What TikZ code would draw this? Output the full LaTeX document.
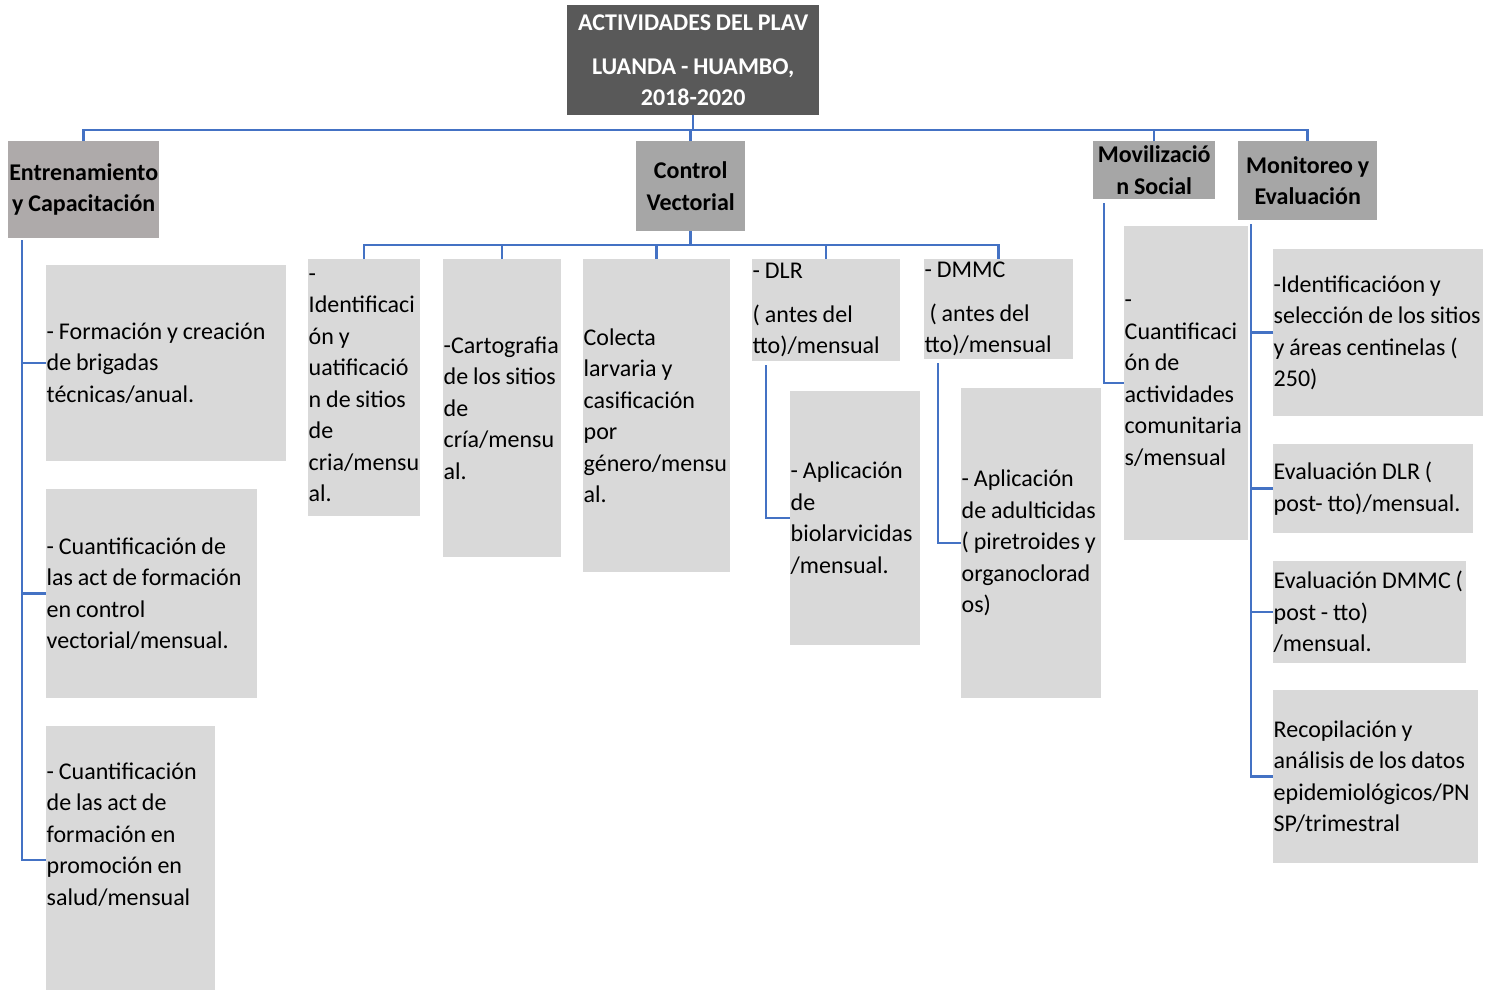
\documentclass[tikz,border=0pt]{standalone}
\usepackage{fontspec}
\setmainfont{Carlito}[WordSpace={0.9,0.3,0.3}]
\usetikzlibrary{positioning,calc}
\definecolor{titlegray}{HTML}{595959}
\definecolor{catgray}{HTML}{A6A6A6}
\definecolor{entgray}{HTML}{AEAAAA}
\definecolor{leafgray}{HTML}{D9D9D9}
\definecolor{linkblue}{HTML}{4472C4}
\newcommand{\boxfont}{\fontsize{24}{31.5}\selectfont\hyphenpenalty=10000\exhyphenpenalty=10000}
\tikzset{
  titlebox/.style={fill=titlegray,text=white,font=\boxfont\bfseries,align=center,anchor=north west,inner sep=0pt},
  catbox/.style={fill=catgray,font=\boxfont\bfseries,align=center,anchor=north west,inner sep=0pt},
  leafbox/.style={fill=leafgray,font=\boxfont,align=flush left,anchor=north west,inner xsep=0.5pt,inner ysep=0pt},
  conn/.style={draw=linkblue,line width=2.5pt}
}

\begin{document}
\begin{tikzpicture}[x=1pt,y=-1pt]
\useasboundingbox (0,0) rectangle (1502,989);
\node[titlebox,minimum width=252pt,minimum height=110pt] (plav) at (567,5) {ACTIVIDADES DEL PLAV\\[12.5pt]LUANDA - HUAMBO,\\2018-2020};
\node[catbox,fill=entgray,minimum width=151pt,minimum height=97pt] (ent) at (8,141) {Entrenamiento\\y Capacitación};
\node[catbox,minimum width=109pt,minimum height=90pt] (cv) at (636,141) {Control\\Vectorial};
\node[catbox,minimum width=122pt,minimum height=58pt] (mov) at (1093,141) {Movilizació\\n Social};
\node[catbox,minimum width=139pt,minimum height=79pt] (mon) at (1238,141) {Monitoreo y\\Evaluación};
\node[leafbox,text width=239pt,minimum height=196pt] (e1) at (46,265) {- Formación y creación\\de brigadas\\técnicas/anual.};
\node[leafbox,text width=210pt,minimum height=209pt] (e2) at (46,489) {- Cuantificación de\\las act de formación\\en control\\vectorial/mensual.};
\node[leafbox,text width=168pt,minimum height=268pt] (e3) at (46,726) {- Cuantificación\\de las act de\\formación en\\promoción en\\salud/mensual\\[21pt]\mbox{}};
\node[leafbox,text width=111pt,minimum height=257pt] (c1) at (308,259) {-\\Identificaci\\ón y\\uatificació\\n de sitios\\de\\cria/mensu\\al.};
\node[leafbox,text width=117pt,minimum height=298pt] (c2) at (443,259) {-Cartografia\\de los sitios\\de\\cría/mensu\\al.};
\node[leafbox,text width=146pt,minimum height=313pt] (c3) at (583,259) {Colecta\\larvaria y\\casificación\\por\\género/mensu\\al.};
\node[leafbox,text width=147pt,minimum height=102pt] (c4) at (752,259) {- DLR\\[12pt]( antes del\\tto)/mensual};
\node[leafbox,text width=148pt,minimum height=100pt] (c5) at (924,259) {- DMMC\\[12pt]\ ( antes del\\tto)/mensual};
\node[leafbox,text width=129pt,minimum height=254pt] (b1) at (790,391) {- Aplicación\\de\\biolarvicidas\\/mensual.};
\node[leafbox,text width=139pt,minimum height=310pt] (b2) at (961,388) {- Aplicación\\de adulticidas\\( piretroides y\\organoclorad\\os)};
\node[leafbox,text width=123pt,minimum height=314pt] (mv1) at (1124,226) {-\\Cuantificaci\\ón de\\actividades\\comunitaria\\s/mensual};
\node[leafbox,text width=209pt,minimum height=167pt] (m1) at (1273,249) {-Identificacióon y\\selección de los sitios\\y áreas centinelas (\\250)};
\node[leafbox,text width=199pt,minimum height=89pt] (m2) at (1273,444) {Evaluación DLR (\\post- tto)/mensual.};
\node[leafbox,text width=192pt,minimum height=102pt] (m3) at (1273,561) {Evaluación DMMC (\\post - tto)\\/mensual.};
\node[leafbox,text width=204pt,minimum height=173pt] (m4) at (1273,690) {Recopilación y\\análisis de los datos\\epidemiológicos/PN\\SP/trimestral};
\coordinate (bus) at (0,130);
\coordinate (cbus) at (0,245);
\draw[conn] (plav.south) -- (plav.south |- bus);
\draw[conn] (ent.north) |- (mon.north |- bus) -- (mon.north);
\draw[conn] (cv.north) -- (cv.north |- bus);
\draw[conn] (mov.north) -- (mov.north |- bus);
\draw[conn] (cv.south) -- (cv.south |- cbus);
\draw[conn] (c1.north) |- (c5.north |- cbus) -- (c5.north);
\draw[conn] (c2.north) -- (c2.north |- cbus);
\draw[conn] (c3.north) -- (c3.north |- cbus);
\draw[conn] (c4.north) -- (c4.north |- cbus);
\draw[conn] ([xshift=14pt,yshift=-2pt]ent.south west) |- (e3.west);
\draw[conn] (e1.west) -- ++(-24,0);
\draw[conn] (e2.west) -- ++(-24,0);
\draw[conn] ([xshift=14pt,yshift=-4pt]c4.south west) |- (b1.west);
\draw[conn] ([xshift=14pt,yshift=-4pt]c5.south west) |- (b2.west);
\draw[conn] ([xshift=11pt,yshift=-4pt]mov.south west) |- (mv1.west);
\draw[conn] ([xshift=13pt,yshift=-4pt]mon.south west) |- (m4.west);
\draw[conn] (m1.west) -- ++(-22,0);
\draw[conn] (m2.west) -- ++(-22,0);
\draw[conn] (m3.west) -- ++(-22,0);
\end{tikzpicture}
\end{document}
